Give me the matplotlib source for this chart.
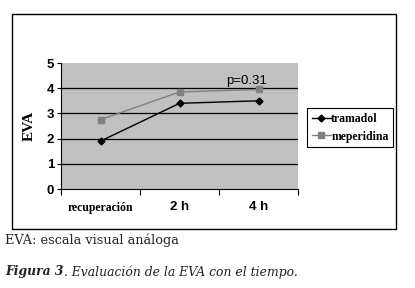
import matplotlib
matplotlib.use('Agg')
import matplotlib.pyplot as plt
from matplotlib.patches import Rectangle

# datos
categorias = ['recuperación', '2 h', '4 h']
tramadol = [1.9, 3.4, 3.5]
meperidina = [2.75, 3.85, 3.95]
yticks = [0, 1, 2, 3, 4, 5]

fig = plt.figure(figsize=(4.15, 2.88), dpi=100)
fig.patch.set_facecolor('white')

# marco exterior del gráfico
fig.add_artist(Rectangle((12 / 415, 1 - 229 / 288), 384 / 415, 215 / 288,
                         transform=fig.transFigure, fill=False,
                         edgecolor='black', linewidth=1.0))

ax = fig.add_axes([61 / 415, 1 - 189 / 288, 237 / 415, 126 / 288])
ax.set_facecolor('#c0c0c0')
x = [0.5, 1.5, 2.5]
ax.plot(x, tramadol, color='black', marker='D', markersize=3.5, linewidth=1.0, label='tramadol')
ax.plot(x, meperidina, color='#808080', marker='s', markersize=4, linewidth=1.0, label='meperidina')
ax.set_xlim(0, 3)
ax.set_ylim(0, 5)
ax.set_yticks(yticks)
for v in yticks[1:-1]:
    ax.axhline(v, color='black', linewidth=0.9, zorder=0.5)
ax.set_xticks([0, 1, 2, 3])
ax.set_xticklabels([])
ax.set_xticks(x, minor=True)
ax.set_xticklabels(categorias, minor=True)
ax.tick_params(axis='x', which='minor', length=0, pad=9)
ax.tick_params(axis='x', which='major', length=4, width=0.8, direction='out')
ax.tick_params(axis='y', length=3, width=0.8, pad=2)
for lbl in ax.get_yticklabels():
    lbl.set_fontfamily('Liberation Sans')
    lbl.set_fontweight('bold')
    lbl.set_fontsize(9.5)
mins = ax.get_xticklabels(minor=True)
mins[0].set_fontfamily('Liberation Serif')
mins[0].set_fontweight('bold')
mins[0].set_fontsize(8.5)
for lbl in mins[1:]:
    lbl.set_fontfamily('Liberation Sans')
    lbl.set_fontweight('bold')
    lbl.set_fontsize(9.5)
for s in ['top', 'right']:
    ax.spines[s].set_visible(False)
ax.spines['left'].set_linewidth(0.8)
ax.spines['bottom'].set_linewidth(0.8)
ax.set_ylabel('EVA', family='Liberation Serif', fontweight='bold', fontsize=11, labelpad=8)
ax.text(2.35, 4.3, 'p=0.31', family='Liberation Sans', fontsize=9.5, ha='center', va='center')

leg = fig.legend(loc='upper left', bbox_to_anchor=(307 / 415, 1 - 108 / 288),
                 prop={'family': 'Liberation Serif', 'weight': 'bold', 'size': 8.5},
                 frameon=True, fancybox=False, edgecolor='black', framealpha=1,
                 borderpad=0.4, handlelength=1.6, handletextpad=0.05,
                 labelspacing=0.5, borderaxespad=0)
leg.get_frame().set_linewidth(0.8)

fig.text(5 / 415, 1 - 240 / 288, 'EVA: escala visual análoga',
         family='DejaVu Serif', fontsize=9.3, va='center', color='#222222')

# pie de figura: "Figura 3" en negrita cursiva y el resto en cursiva
t1 = fig.text(5 / 415, 1 - 272 / 288, 'Figura 3',
              family='DejaVu Serif', style='italic', weight='bold',
              fontsize=8.9, va='center', color='#222222')
fig.canvas.draw()
bb = t1.get_window_extent()
x2 = fig.transFigure.inverted().transform((bb.x1, bb.y0))[0]
fig.text(x2, 1 - 272 / 288, '. Evaluación de la EVA con el tiempo.',
         family='DejaVu Serif', style='italic', fontsize=8.9, va='center', color='#222222')

fig.savefig('out.png', dpi=100)
